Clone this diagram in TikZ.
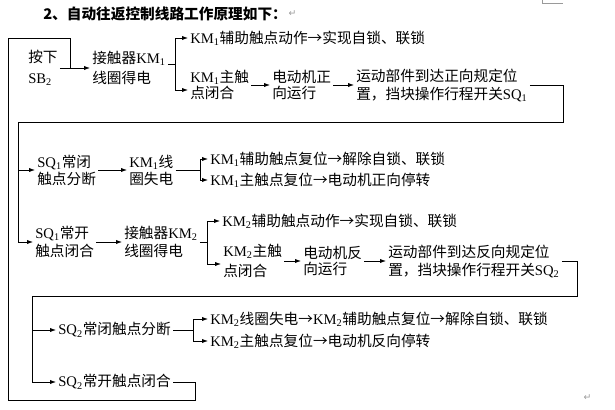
\documentclass[tikz,border=0pt]{standalone}
\usepackage{fontspec}
\usepackage{xcolor}
\setmainfont{Noto Sans CJK SC}
\newfontfamily\enfont{Liberation Serif}
\newfontfamily\symfont{DejaVu Sans}
\usetikzlibrary{arrows.meta,calc}
\definecolor{markgray}{HTML}{9A9A9A}
\newcommand\en[1]{{\enfont #1}}
\newcommand\km[1]{\en{KM\textsubscript{#1}}}
\newcommand\sq[1]{\en{SQ\textsubscript{#1}}}

\begin{document}
\begin{tikzpicture}[
  x=0.75pt, y=-0.75pt,
  >={Latex[length=4.5pt,width=3.2pt]},
  txt/.style={anchor=west, inner sep=1.5pt, align=left,
    font=\fontsize{11}{#1}\selectfont},
  txt/.default=12.75,
  flow/.style={->, line width=0.6pt},
  wire/.style={line width=0.7pt},
  retmark/.style={anchor=west, inner sep=1pt, text=markgray,
    font=\symfont\fontsize{7}{7}\selectfont},
]
\useasboundingbox (0,0) rectangle (615,410);

% --- title ----------------------------------------------------------
\node[anchor=west, inner sep=0pt, font=\fontsize{11}{13}\selectfont\bfseries]
  (title) at (43,14) {2、自动往返控制线路工作原理如下：};
\node[retmark] (ret1) at (title.east) {↵};
\draw[markgray, line width=0.4pt] (542,0) -- (542,3) -- (563,3);

% --- forward run ----------------------------------------------------
\node[txt=15.5]  (sb)      at (26,68)  {按下\\\en{SB\textsubscript{2}}};
\node[txt=15]    (km1on)   at (90,68)  {接触器\km{1}\\线圈得电};
\node[txt]       (km1aux)  at (188,38) {\km{1}辅助触点动作→实现自锁、联锁};
\node[txt=12.25] (km1main) at (188,85) {\km{1}主触\\点闭合};
\node[txt=12.25] (motorF)  at (270,85) {电动机正\\向运行};
\node[txt=13.5]  (reachF)  at (354,85) {运动部件到达正向规定位\\置，挡块操作行程开关\sq{1}};

% --- SQ1 acts -------------------------------------------------------
\node[txt]       (sq1nc)   at (35,170)  {\sq{1}常闭\\触点分断};
\node[txt]       (km1off)  at (127,170) {\km{1}线\\圈失电};
\node[txt]       (km1r1)   at (208,159) {\km{1}辅助触点复位→解除自锁、联锁};
\node[txt]       (km1r2)   at (208,180) {\km{1}主触点复位→电动机正向停转};

\node[txt=13.5]  (sq1no)   at (33,242)  {\sq{1}常开\\触点闭合};
\node[txt=13.5]  (km2on)   at (122,242) {接触器\km{2}\\线圈得电};
\node[txt]       (km2aux)  at (220,221) {\km{2}辅助触点动作→实现自锁、联锁};
\node[txt=15]    (km2main) at (221,261) {\km{2}主触\\点闭合};
\node[txt=12.25] (motorR)  at (301,261) {电动机反\\向运行};
\node[txt=13.5]  (reachR)  at (386,261) {运动部件到达反向规定位\\置，挡块操作行程开关\sq{2}};

% --- SQ2 acts -------------------------------------------------------
\node[txt]       (sq2nc)   at (56,330)  {\sq{2}常闭触点分断};
\node[txt]       (km2r1)   at (208,319) {\km{2}线圈失电→\km{2}辅助触点复位→解除自锁、联锁};
\node[txt]       (km2r2)   at (208,341) {\km{2}主触点复位→电动机反向停转};
\node[txt]       (sq2no)   at (56,382)  {\sq{2}常开触点闭合};
\node[retmark]   (ret2)    at (582,398) {↵};

% --- corners --------------------------------------------------------
\coordinate (j0) at (70,68);
\coordinate (lt) at (8,38);
\coordinate (lb) at (195,400);
\coordinate (b1) at (175,64);
\coordinate (r1) at (563,122);
\coordinate (l1) at (18,122);
\coordinate (b2) at (200,170);
\coordinate (b3) at (207,242);
\coordinate (r3) at (577,296);
\coordinate (l3) at (32,296);
\coordinate (b4) at (193,330);

% --- connectors -----------------------------------------------------
\draw[flow] (sb.east) -- (km1on.west);
\draw[wire] (km1on.east |- b1) -- (b1);
\draw[flow] (b1) |- (km1aux.west);
\draw[flow] (b1) |- ($(km1main.west)+(0,5)$);
\draw[flow] (km1main.east) -- (motorF.west);
\draw[flow] (motorF.east) -- (reachF.west);
\draw[wire] (reachF.east) -| (r1) -- (l1);
\draw[flow] (l1 |- sq1nc.west) -- (sq1nc.west);
\draw[flow] (l1) |- (sq1no.west);

\draw[flow] (sq1nc.east) -- (km1off.west);
\draw[wire] (km1off.east) -- (b2);
\draw[flow] (b2) |- (km1r1.west);
\draw[flow] (b2) |- (km1r2.west);

\draw[flow] (sq1no.east) -- (km2on.west);
\draw[wire] (km2on.east) -- (b3);
\draw[flow] (b3) |- (km2aux.west);
\draw[flow] (b3) |- ($(km2main.west)+(0,3)$);
\draw[flow] (km2main.east) -- (motorR.west);
\draw[flow] (motorR.east) -- (reachR.west);
\draw[wire] (reachR.east) -| (r3) -- (l3);
\draw[flow] (l3 |- sq2nc.west) -- (sq2nc.west);
\draw[flow] (l3) |- (sq2no.west);

\draw[wire] (sq2nc.east) -- (b4);
\draw[flow] (b4) |- (km2r1.west);
\draw[flow] (b4) |- (km2r2.west);

% back to KM1
\draw[wire] (sq2no.east) -| (lb) -| (lt) -| (j0);

\end{tikzpicture}
\end{document}
